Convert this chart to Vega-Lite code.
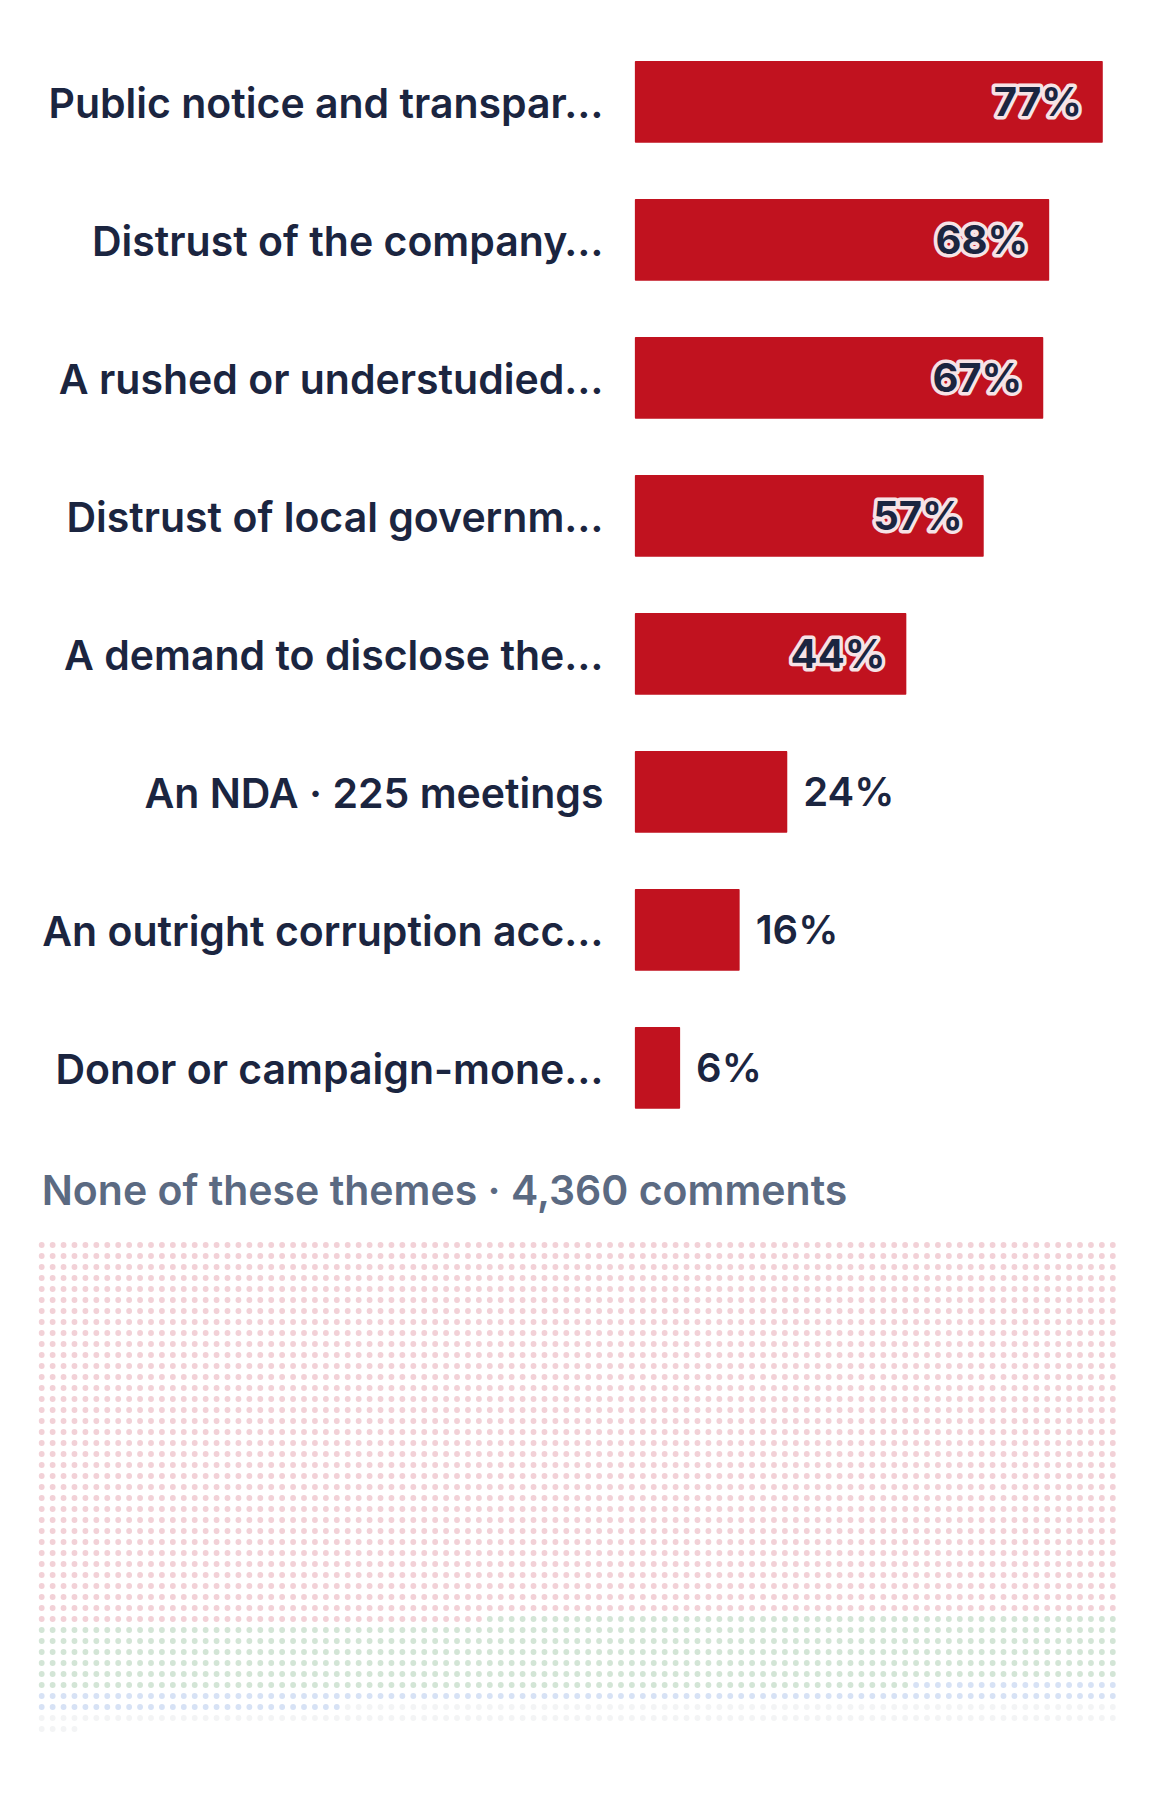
{
  "$schema": "https://vega.github.io/schema/vega-lite/v6.json",
  "width": 1170,
  "height": 1806,
  "autosize": {"type": "none"},
  "padding": 0,
  "background": "#ffffff",
  "config": {"view": {"stroke": null}},
  "layer": [
    {
      "data": {
        "values": [
          {"label": "Public notice and transpar…", "pct": 0.77, "o": 1},
          {"label": "Distrust of the company…", "pct": 0.68, "o": 2},
          {"label": "A rushed or understudied…", "pct": 0.67, "o": 3},
          {"label": "Distrust of local governm…", "pct": 0.57, "o": 4},
          {"label": "A demand to disclose the…", "pct": 0.44, "o": 5},
          {"label": "An NDA · 225 meetings", "pct": 0.24, "o": 6},
          {"label": "An outright corruption acc…", "pct": 0.16, "o": 7},
          {"label": "Donor or campaign-mone…", "pct": 0.06, "o": 8}
        ]
      },
      "encoding": {
        "y": {
          "field": "label", "type": "nominal",
          "sort": {"field": "o", "op": "min"},
          "scale": {"range": [32.8, 1136.8], "paddingInner": 0.408, "paddingOuter": 0.204},
          "axis": {
            "orient": "left", "offset": -603, "title": null, "domain": false, "ticks": false,
            "tickSize": 0, "labelPadding": 0, "labelFont": "Inter", "labelFontSize": 41,
            "labelFontWeight": 600, "labelColor": "#1b2540", "labelLimit": 0, "labelOffset": 4,
            "labelAlign": "right", "labelBaseline": "middle", "grid": false
          }
        },
        "x": {
          "field": "pct", "type": "quantitative",
          "scale": {"domain": [0, 1], "range": [644.4, 1239.7], "nice": false, "zero": false},
          "axis": null
        }
      },
      "layer": [
        {
          "mark": {"type": "bar", "color": "#c1121f", "cornerRadius": 1},
          "encoding": {"x2": {"datum": -0.016}}
        },
        {
          "transform": [{"filter": "datum.pct >= 0.3"}],
          "mark": {"type": "text", "align": "right", "baseline": "middle", "dx": -21, "dy": 2, "font": "Inter", "fontSize": 40, "fontWeight": 700, "fill": "#f6e3e6", "stroke": "#f6e3e6", "strokeWidth": 7, "strokeJoin": "round"},
          "encoding": {"text": {"field": "pct", "type": "quantitative", "format": ".0%"}}
        },
        {
          "transform": [{"filter": "datum.pct >= 0.3"}],
          "mark": {"type": "text", "align": "right", "baseline": "middle", "dx": -21, "dy": 2, "font": "Inter", "fontSize": 40, "fontWeight": 700, "fill": "#1b2540"},
          "encoding": {"text": {"field": "pct", "type": "quantitative", "format": ".0%"}}
        },
        {
          "transform": [{"filter": "datum.pct < 0.3"}],
          "mark": {"type": "text", "align": "left", "baseline": "middle", "dx": 16, "dy": 2, "font": "Inter", "fontSize": 40, "fontWeight": 600, "fill": "#1b2540"},
          "encoding": {"text": {"field": "pct", "type": "quantitative", "format": ".0%"}}
        }
      ]
    },
    {
      "encoding": {
        "x": {"type": "quantitative", "scale": {"domain": [0, 98], "range": [41.7, 1112.8], "nice": false, "zero": false}, "axis": null},
        "y": {"type": "quantitative", "scale": {"domain": [0, 44], "range": [1245, 1729], "nice": false, "zero": false}, "axis": null}
      },
      "layer": [
        {
          "data": {
            "values": [
              {"k": "p", "r": [0,1,2,3,4,5,6,7,8,9,10,11,12,13,14,15,16,17,18,19,20,21,22,23,24,25,26,27,28,29,30,31,32,33], "c": [0,1,2,3,4,5,6,7,8,9,10,11,12,13,14,15,16,17,18,19,20,21,22,23,24,25,26,27,28,29,30,31,32,33,34,35,36,37,38,39,40,41,42,43,44,45,46,47,48,49,50,51,52,53,54,55,56,57,58,59,60,61,62,63,64,65,66,67,68,69,70,71,72,73,74,75,76,77,78,79,80,81,82,83,84,85,86,87,88,89,90,91,92,93,94,95,96,97,98]},
              {"k": "p", "r": [34], "c": [0,1,2,3,4,5,6,7,8,9,10,11,12,13,14,15,16,17,18,19,20,21,22,23,24,25,26,27,28,29,30,31,32,33,34,35,36,37,38,39,40]},
              {"k": "g", "r": [34], "c": [41,42,43,44,45,46,47,48,49,50,51,52,53,54,55,56,57,58,59,60,61,62,63,64,65,66,67,68,69,70,71,72,73,74,75,76,77,78,79,80,81,82,83,84,85,86,87,88,89,90,91,92,93,94,95,96,97,98]},
              {"k": "g", "r": [35,36,37,38,39], "c": [0,1,2,3,4,5,6,7,8,9,10,11,12,13,14,15,16,17,18,19,20,21,22,23,24,25,26,27,28,29,30,31,32,33,34,35,36,37,38,39,40,41,42,43,44,45,46,47,48,49,50,51,52,53,54,55,56,57,58,59,60,61,62,63,64,65,66,67,68,69,70,71,72,73,74,75,76,77,78,79,80,81,82,83,84,85,86,87,88,89,90,91,92,93,94,95,96,97,98]},
              {"k": "g", "r": [40], "c": [0,1,2,3,4,5,6,7,8,9,10,11,12,13,14,15,16,17,18,19,20,21,22,23,24,25,26,27,28,29,30,31,32,33,34,35,36,37,38,39,40,41,42,43,44,45,46,47,48,49,50,51,52,53,54,55,56,57,58,59,60,61,62,63,64,65,66,67,68,69,70,71,72,73,74,75,76,77,78,79]},
              {"k": "b", "r": [40], "c": [80,81,82,83,84,85,86,87,88,89,90,91,92,93,94,95,96,97,98]},
              {"k": "b", "r": [41], "c": [0,1,2,3,4,5,6,7,8,9,10,11,12,13,14,15,16,17,18,19,20,21,22,23,24,25,26,27,28,29,30,31,32,33,34,35,36,37,38,39,40,41,42,43,44,45,46,47,48,49,50,51,52,53,54,55,56,57,58,59,60,61,62,63,64,65,66,67,68,69,70,71,72,73,74,75,76,77,78,79,80,81,82,83,84,85,86,87,88,89,90,91,92,93,94,95,96,97,98]},
              {"k": "b", "r": [42], "c": [0,1,2,3,4,5,6,7,8,9,10,11,12,13,14,15,16,17,18,19,20,21,22,23,24,25,26,27]},
              {"k": "n", "r": [42], "c": [28,29,30,31,32,33,34,35,36,37,38,39,40,41,42,43,44,45,46,47,48,49,50,51,52,53,54,55,56,57,58,59,60,61,62,63,64,65,66,67,68,69,70,71,72,73,74,75,76,77,78,79,80,81,82,83,84,85,86,87,88,89,90,91,92,93,94,95,96,97,98]},
              {"k": "n", "r": [43], "c": [0,1,2,3,4,5,6,7,8,9,10,11,12,13,14,15,16,17,18,19,20,21,22,23,24,25,26,27,28,29,30,31,32,33,34,35,36,37,38,39,40,41,42,43,44,45,46,47,48,49,50,51,52,53,54,55,56,57,58,59,60,61,62,63,64,65,66,67,68,69,70,71,72,73,74,75,76,77,78,79,80,81,82,83,84,85,86,87,88,89,90,91,92,93,94,95,96,97,98]},
              {"k": "n", "r": [44], "c": [0,1,2,3]}
            ]
          },
          "transform": [{"flatten": ["r"]}, {"flatten": ["c"]}],
          "mark": {"type": "circle", "size": 34, "opacity": 1},
          "encoding": {
            "x": {"field": "c", "type": "quantitative"},
            "y": {"field": "r", "type": "quantitative"},
            "color": {
              "field": "k", "type": "nominal",
              "scale": {"domain": ["p", "g", "b", "n"], "range": ["#f2d1d7", "#d3e5d6", "#d7e2f5", "#f3f4f5"]},
              "legend": null
            }
          }
        },
        {
          "data": {"values": [{"t": "None of these themes · 4,360 comments"}]},
          "mark": {"type": "text", "align": "left", "baseline": "alphabetic", "font": "Inter", "fontSize": 41, "fontWeight": 600, "fill": "#5b6a82"},
          "encoding": {
            "x": {"datum": 0},
            "y": {"datum": -3.64},
            "text": {"field": "t", "type": "nominal"}
          }
        }
      ]
    }
  ],
  "resolve": {"scale": {"x": "independent", "y": "independent"}, "axis": {"x": "independent", "y": "independent"}}
}
